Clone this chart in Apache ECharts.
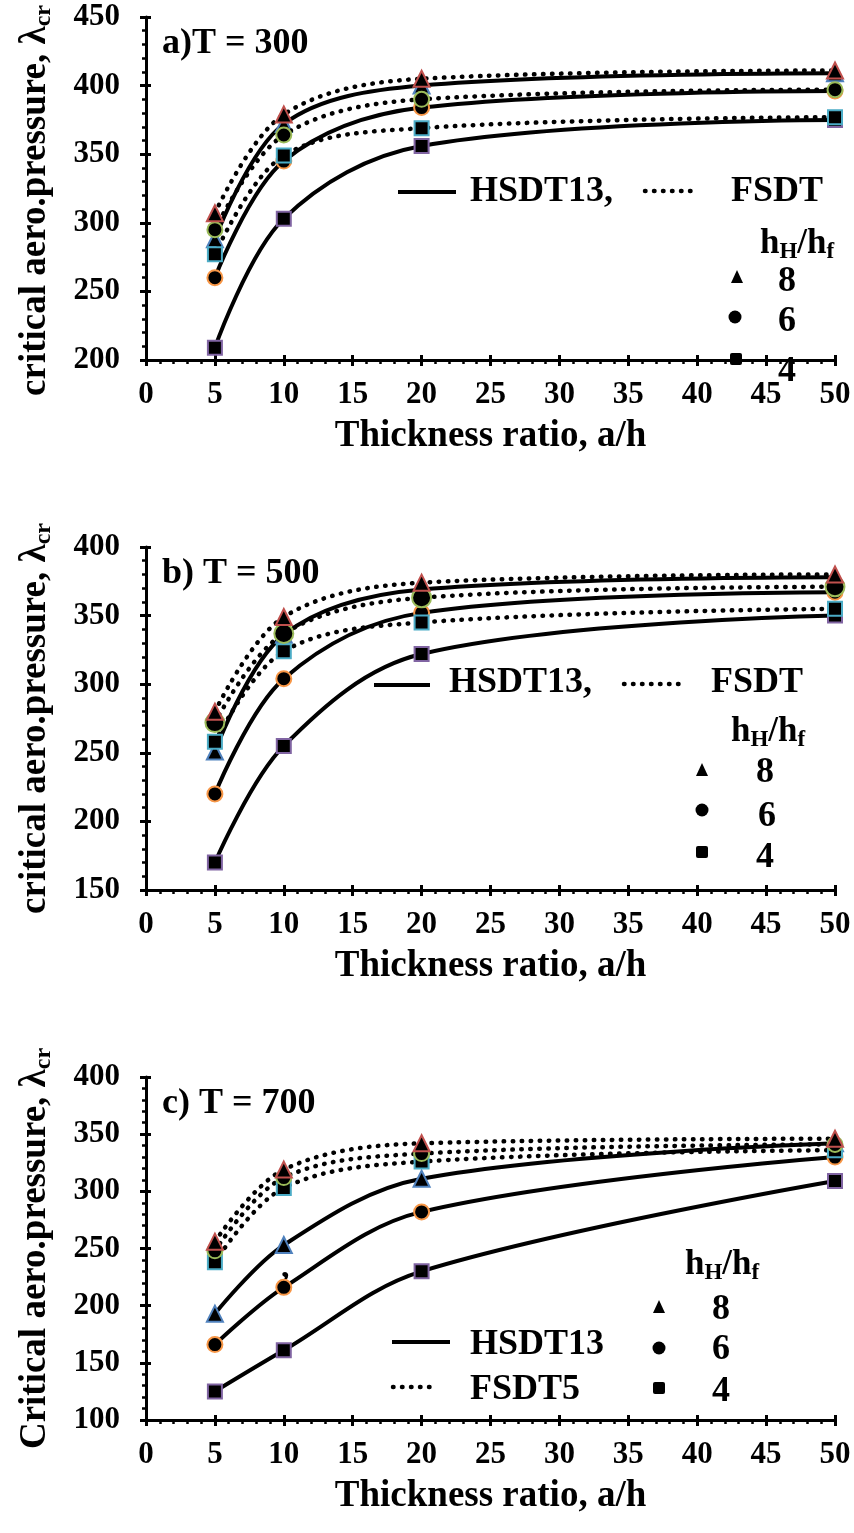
<!DOCTYPE html>
<html>
<head>
<meta charset="utf-8">
<script src="https://cdn.jsdelivr.net/npm/echarts@6/dist/echarts.min.js"></script>
<style>
html,body{margin:0;padding:0;background:#fff;}
#chart{width:854px;height:1533px;}
</style>
</head>
<body>
<div id="chart"></div>
<script>
// ---------- data ----------
const thickness = [5, 10, 20, 50];

// panel a) T = 300
const aHSDT8 = [288, 372, 400, 409];
const aFSDT8 = [307, 379, 405, 411];
const aHSDT6 = [260, 345, 384, 396];
const aFSDT6 = [295, 364, 390, 397];
const aHSDT4 = [209, 303, 356, 375];
const aFSDT4 = [277, 349, 369, 377];

// panel b) T = 500
const bHSDT8 = [251, 336, 369, 378];
const bFSDT8 = [280, 349, 374, 380];
const bHSDT6 = [220, 304, 352, 367];
const bFSDT6 = [272, 337, 363, 371];
const bHSDT4 = [170, 255, 322, 350];
const bFSDT4 = [258, 324, 345, 355];

// panel c) T = 700
const cHSDT8 = [193, 253, 311, 342];
const cFSDT8 = [256, 319, 342, 346];
const cHSDT6 = [166, 216, 282, 330];
const cFSDT6 = [248, 312, 333, 341];
const cHSDT4 = [125, 161, 230, 309];
const cFSDT4 = [238, 303, 326, 336];

const panelTitles = ['a)T = 300', 'b) T = 500', 'c) T = 700'];
const yTitles = ['critical aero.pressure, λ', 'critical aero.pressure, λ', 'Critical aero.pressure, λ'];
const yMin = [200, 150, 100];
const yMax = [450, 400, 400];
const xTitle = 'Thickness ratio, a/h';

// ---------- styling ----------
const FONT = '"Liberation Serif", "Times New Roman", serif';
const gridTops = [17, 547, 1077];
const GRID_H = 343;
const LEFT = 146, RIGHT = 19;
const yNamePad = [[0, 24, 0, 0], [0, 0, 0, 0], [0, 0, 0, 0]];

const chart = echarts.init(document.getElementById('chart'), null, {renderer: 'canvas'});

const grids = [], xAxes = [], yAxes = [], series = [], graphics = [];

function pair(d) { return thickness.map((x, i) => [x, d[i]]); }

function addSeries(gi, data, kind, sym, border, size) {
  const solid = kind === 'HSDT';
  series.push({
    type: 'line',
    xAxisIndex: gi * 2,
    yAxisIndex: gi * 2,
    data: pair(data),
    smooth: 0.35,
    symbol: sym,
    symbolSize: size,
    showSymbol: true,
    z: solid ? 2 : 3,
    itemStyle: {color: '#000', borderColor: border, borderWidth: 2},
    lineStyle: solid
      ? {color: '#000', width: 4, type: 'solid'}
      : {color: '#000', width: 4.5, type: [0.5, 8.5], cap: 'round'},
    emphasis: {disabled: true},
    animation: false
  });
}

const panels = [
  [aHSDT8, aFSDT8, aHSDT6, aFSDT6, aHSDT4, aFSDT4],
  [bHSDT8, bFSDT8, bHSDT6, bFSDT6, bHSDT4, bFSDT4],
  [cHSDT8, cFSDT8, cHSDT6, cFSDT6, cHSDT4, cFSDT4]
];

panels.forEach((p, gi) => {
  grids.push({left: LEFT, right: RIGHT, top: gridTops[gi], height: GRID_H, containLabel: false, outerBoundsMode: 'none'});
  const axLine = {show: true, onZero: false, lineStyle: {color: '#000', width: 3}};
  xAxes.push({
    gridIndex: gi, type: 'value', min: 0, max: 50, interval: 5, position: 'bottom',
    axisLine: axLine,
    axisTick: {show: true, inside: false, length: 6, lineStyle: {color: '#000', width: 3}},
    minorTick: {show: true, splitNumber: 5, length: 4, lineStyle: {color: '#000', width: 2.5}},
    splitLine: {show: false}, minorSplitLine: {show: false},
    axisLabel: {color: '#000', fontFamily: FONT, fontWeight: 'bold', fontSize: 31, margin: 19},
    name: xTitle, nameLocation: 'middle', nameGap: 58,
    nameTextStyle: {color: '#000', fontFamily: FONT, fontWeight: 'bold', fontSize: 37}
  });
  xAxes.push({
    gridIndex: gi, type: 'value', min: 0, max: 50, interval: 5, position: 'bottom', offset: 0,
    axisLine: {show: false},
    axisTick: {show: true, inside: true, length: 5, lineStyle: {color: '#000', width: 3}},
    axisLabel: {show: false}, splitLine: {show: false}
  });
  yAxes.push({
    gridIndex: gi, type: 'value', min: yMin[gi], max: yMax[gi], interval: 50, position: 'left',
    axisLine: axLine,
    axisTick: {show: true, inside: false, length: 6, lineStyle: {color: '#000', width: 3}},
    minorTick: {show: true, splitNumber: 5, length: 4, lineStyle: {color: '#000', width: 2.5}},
    splitLine: {show: false}, minorSplitLine: {show: false},
    axisLabel: {color: '#000', fontFamily: FONT, fontWeight: 'bold', fontSize: 31, margin: 26},
    name: '{t|' + yTitles[gi] + '}{s|cr}', nameLocation: 'middle', nameGap: 90,
    nameTextStyle: {
      color: '#000',
      padding: yNamePad[gi],
      rich: {
        t: {fontFamily: FONT, fontWeight: 'bold', fontSize: 37, lineHeight: 42, verticalAlign: 'middle', color: '#000'},
        s: {fontFamily: FONT, fontWeight: 'bold', fontSize: 24, lineHeight: 26, verticalAlign: 'bottom', color: '#000'}
      }
    }
  });
  yAxes.push({
    gridIndex: gi, type: 'value', min: yMin[gi], max: yMax[gi], interval: 50, position: 'left', offset: 0,
    axisLine: {show: false},
    axisTick: {show: true, inside: true, length: 5, lineStyle: {color: '#000', width: 3}},
    axisLabel: {show: false}, splitLine: {show: false}
  });

  const circSize = gi === 1 ? 19 : 15;
  addSeries(gi, p[4], 'HSDT', 'rect', '#8064A2', 14);
  addSeries(gi, p[2], 'HSDT', 'circle', '#F79646', 15);
  addSeries(gi, p[0], 'HSDT', 'triangle', '#4F81BD', 16);
  addSeries(gi, p[5], 'FSDT', 'rect', '#4BACC6', 14);
  addSeries(gi, p[3], 'FSDT', 'circle', '#9BBB59', circSize);
  addSeries(gi, p[1], 'FSDT', 'triangle', '#C0504D', 16);

  graphics.push({
    type: 'text', left: 162, top: gridTops[gi] + 9,
    style: {text: panelTitles[gi], fontFamily: FONT, fontWeight: 'bold', fontSize: 36, fill: '#000'}
  });
});

// ---------- legends (graphic) ----------
const txt = (x, y, s, extra) => Object.assign({
  type: 'text', x: x, y: y,
  style: {text: s, fontFamily: FONT, fontWeight: 'bold', fontSize: 36, fill: '#000', textVerticalAlign: 'middle', textAlign: 'left'}
}, extra || {});
const hline = (x1, x2, y, dotted) => ({
  type: 'line', shape: {x1: x1, y1: y, x2: x2, y2: y},
  style: dotted ? {stroke: '#000', lineWidth: 4.5, lineDash: [0.5, 8.5], lineCap: 'round'} : {stroke: '#000', lineWidth: 4}
});
const tri = (cx, cy) => ({type: 'polygon', shape: {points: [[cx, cy - 7], [cx - 6, cy + 6], [cx + 6, cy + 6]]}, style: {fill: '#000'}});
const circ = (cx, cy) => ({type: 'circle', shape: {cx: cx, cy: cy, r: 6.5}, style: {fill: '#000'}});
const sq = (cx, cy) => ({type: 'rect', shape: {x: cx - 6, y: cy - 6, width: 12, height: 12, r: 2}, style: {fill: '#000'}});
const hRatio = (x, y) => ({
  type: 'text', x: x, y: y,
  style: {
    text: '{m|h}{s|H}{m|/h}{s|f}', textVerticalAlign: 'middle',
    rich: {
      m: {fontFamily: FONT, fontWeight: 'bold', fontSize: 35, lineHeight: 40, verticalAlign: 'middle', fill: '#000'},
      s: {fontFamily: FONT, fontWeight: 'bold', fontSize: 23, lineHeight: 22, verticalAlign: 'bottom', fill: '#000'}
    }
  }
});

// panel a legend
graphics.push(hline(398, 456, 192, false));
graphics.push(txt(470, 192, 'HSDT13,'));
graphics.push(hline(645, 698, 191, true));
graphics.push(txt(731, 192, 'FSDT'));
graphics.push(hRatio(760, 244));
graphics.push(tri(737, 277));
graphics.push(txt(778, 282, '8'));
graphics.push(circ(735, 317));
graphics.push(txt(778, 322, '6'));
graphics.push(sq(736, 359));
graphics.push(txt(778, 372, '4'));

// panel b legend
graphics.push(hline(374, 430, 685, false));
graphics.push(txt(449, 683, 'HSDT13,'));
graphics.push(hline(624, 684, 684, true));
graphics.push(txt(711, 683, 'FSDT'));
graphics.push(hRatio(731, 732));
graphics.push(tri(702, 770));
graphics.push(txt(756, 773, '8'));
graphics.push(circ(702, 810));
graphics.push(txt(758, 817, '6'));
graphics.push(sq(702, 852));
graphics.push(txt(756, 858, '4'));

// panel c legend
graphics.push(hRatio(685, 1265));
graphics.push(tri(659, 1307));
graphics.push(txt(712, 1310, '8'));
graphics.push(circ(659, 1348));
graphics.push(txt(712, 1350, '6'));
graphics.push(sq(659, 1388));
graphics.push(txt(712, 1392, '4'));
graphics.push(hline(392, 450, 1342, false));
graphics.push(txt(470, 1345, 'HSDT13'));
graphics.push(hline(393, 437, 1387, true));
graphics.push(txt(470, 1390, 'FSDT5'));
graphics.push(txt(281, 1268, ',', {style: {text: ',', fontFamily: FONT, fontWeight: 'bold', fontSize: 34, fill: '#000', textVerticalAlign: 'middle'}}));

chart.setOption({
  animation: false,
  backgroundColor: '#fff',
  grid: grids,
  xAxis: xAxes,
  yAxis: yAxes,
  series: series,
  graphic: {elements: graphics}
});
</script>
</body>
</html>
